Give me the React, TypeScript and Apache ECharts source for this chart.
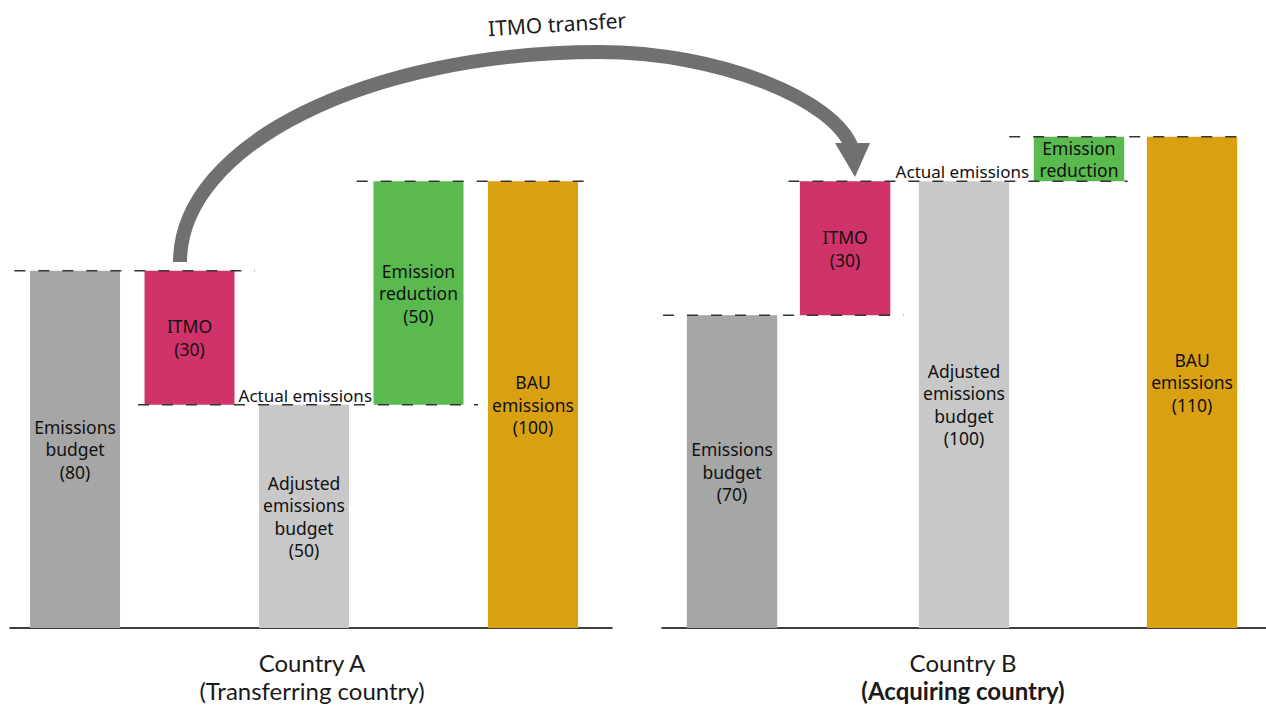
import React, { useEffect, useRef } from "react";
import * as echarts from "echarts";

// ---- data ----
const labelsA = ["Emissions\nbudget\n(80)", "ITMO\n(30)", "Adjusted\nemissions\nbudget\n(50)", "Emission\nreduction\n(50)", "BAU\nemissions\n(100)"];
const lowA = [0, 50, 0, 50, 0];
const highA = [80, 80, 50, 100, 100];

const labelsB = ["Emissions\nbudget\n(70)", "ITMO\n(30)", "Adjusted\nemissions\nbudget\n(100)", "Emission\nreduction", "BAU\nemissions\n(110)"];
const lowB = [0, 70, 0, 100, 0];
const highB = [70, 100, 100, 110, 110];

const refLevelsA = [80, 50, 100];
const refLevelsB = [70, 100, 110];
const actualA = 50;
const actualB = 100;

// ---- layout / style ----
const posA = [0, 1, 2, 3, 4];
const posB = [0, 0.983, 2.017, 3.017, 4];
const barColors = ["#a6a6a6", "#d03369", "#c8c8c8", "#5aba4f", "#d9a012"];
const refSpanA = [[-0.53, 1.57], [0.55, 3.52], [2.46, 4.54]];
const refSpanB = [[-0.6, 1.49], [0.49, 3.44], [2.41, 4.49]];
const FONT = "'Noto Sans', sans-serif";

function makeBars(labels: string[], low: number[], high: number[], pos: number[], idx: number) {
  return {
    type: "custom",
    xAxisIndex: idx,
    yAxisIndex: idx,
    z: 2,
    data: low.map((l, i) => [pos[i], l, high[i]]),
    encode: { x: 0, y: [1, 2] },
    renderItem: (params: any, api: any) => {
      const x = api.value(0);
      const lo = api.value(1);
      const hi = api.value(2);
      const pHi = api.coord([x, hi]);
      const pLo = api.coord([x, lo]);
      const w = api.size([1, 0])[0] * 0.786;
      return {
        type: "rect",
        shape: { x: pHi[0] - w / 2, y: pHi[1], width: w, height: pLo[1] - pHi[1] },
        style: { fill: barColors[params.dataIndex] },
        textContent: {
          style: {
            text: labels[params.dataIndex],
            fill: "#111111",
            fontSize: 17.5,
            fontFamily: FONT,
            lineHeight: 22.5,
            align: "center",
            verticalAlign: "middle",
          },
        },
        textConfig: { position: "inside" },
      };
    },
  };
}

function makeRefs(levels: number[], spans: number[][], idx: number) {
  return levels.map((y, i) => ({
    type: "line",
    xAxisIndex: idx,
    yAxisIndex: idx,
    z: 5,
    symbol: "none",
    silent: true,
    data: [[spans[i][0], y], [spans[i][1], y]],
    lineStyle: { type: [11, 13], color: "#333333", width: 1.5 },
  }));
}

function makeActual(x: number, y: number, idx: number) {
  return {
    type: "scatter",
    xAxisIndex: idx,
    yAxisIndex: idx,
    symbolSize: 0,
    z: 6,
    silent: true,
    itemStyle: { opacity: 1 },
    data: [[x, y]],
    label: {
      show: true,
      formatter: "Actual emissions",
      position: "top",
      align: "right",
      distance: 1,
      color: "#111111",
      opacity: 1,
      fontSize: 17,
      fontFamily: FONT,
    },
  };
}

export default function App() {
  const ref = useRef<HTMLDivElement>(null);
  useEffect(() => {
    const chart = echarts.init(ref.current!, null, { renderer: "svg" });
    const yAx = (i: number) => ({ type: "value", gridIndex: i, min: 0, max: 120, show: false });
    const xAx = (i: number, min: number, max: number) => ({
      type: "value",
      gridIndex: i,
      min,
      max,
      axisLine: { show: true, onZero: true, lineStyle: { color: "#000", width: 1.5 } },
      axisTick: { show: false },
      axisLabel: { show: false },
      splitLine: { show: false },
    });
    const nStyle = { fontSize: 24, fontFamily: "Lato, sans-serif", fontWeight: "normal", color: "#1a1a1a", lineHeight: 28 };
    chart.setOption({
      animation: false,
      grid: [
        { left: 10, width: 602, top: 92, bottom: 81 },
        { left: 662, width: 604, top: 92, bottom: 81 },
      ],
      xAxis: [xAx(0, -0.568, 4.69), xAx(1, -0.609, 4.643)],
      yAxis: [yAx(0), yAx(1)],
      title: [
        {
          text: "{n|Country A}\n{n|(Transferring country)}",
          left: 307,
          top: 643,
          textAlign: "center",
          textStyle: { fontWeight: "normal", rich: { n: nStyle } },
        },
        {
          text: "{n|Country B}\n{b|(Acquiring country)}",
          left: 958,
          top: 643,
          textAlign: "center",
          textStyle: {
            fontWeight: "normal",
            rich: { n: nStyle, b: { ...nStyle, fontWeight: "bold" } },
          },
        },
      ],
      series: [
        makeBars(labelsA, lowA, highA, posA, 0),
        makeBars(labelsB, lowB, highB, posB, 1),
        ...makeRefs(refLevelsA, refSpanA, 0),
        ...makeRefs(refLevelsB, refSpanB, 1),
        makeActual(2.594, actualA, 0),
        makeActual(2.583, actualB, 1),
      ],
      graphic: [
        {
          type: "bezierCurve",
          shape: { x1: 180, y1: 262, cpx1: 180, cpy1: 145, cpx2: 368, cpy2: 52, x2: 600, y2: 52 },
          style: { stroke: "#707070", lineWidth: 14, fill: null },
        },
        {
          type: "bezierCurve",
          shape: { x1: 599, y1: 52, cpx1: 720, cpy1: 52, cpx2: 835, cpy2: 100, x2: 852, y2: 148 },
          style: { stroke: "#707070", lineWidth: 14, fill: null },
        },
        {
          type: "polygon",
          shape: { points: [[835, 143], [870, 143], [855, 177]] },
          style: { fill: "#707070" },
        },
        {
          type: "text",
          x: 557,
          y: 24,
          rotation: 0.06,
          style: {
            text: "ITMO transfer",
            fontSize: 21,
            fontFamily: FONT,
            fill: "#1a1a1a",
            align: "center",
            verticalAlign: "middle",
          },
        },
      ],
    });
    return () => chart.dispose();
  }, []);
  return <div ref={ref} style={{ position: "absolute", left: 0, top: 0, width: 1266, height: 709 }} />;
}
